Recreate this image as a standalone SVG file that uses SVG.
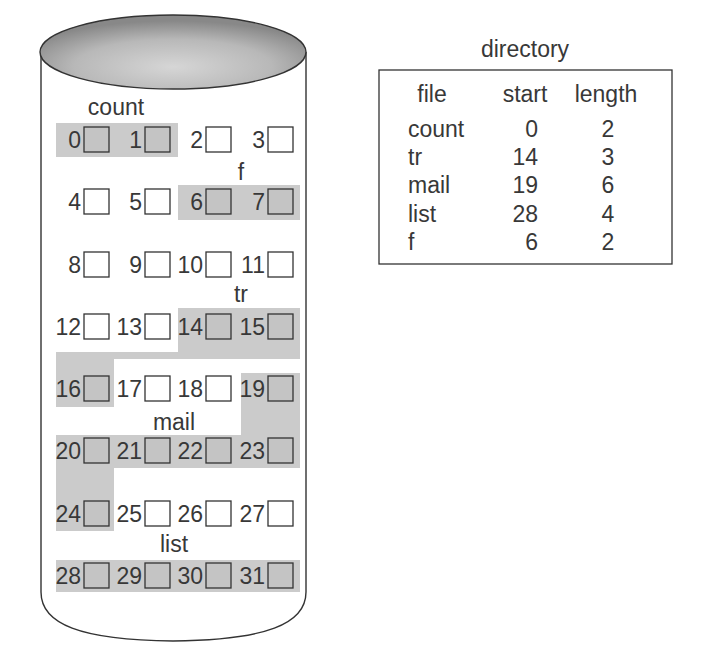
<svg xmlns="http://www.w3.org/2000/svg" width="709" height="658" viewBox="0 0 709 658">
<style>
text{font-family:"Liberation Sans",Arial,sans-serif;font-size:23px;fill:#383838}
.n{text-anchor:end}
.c{text-anchor:middle}
.sq{fill:#fff;stroke:#333;stroke-width:1.3}
.sh .sq{fill:#c4c4c4}
.reg{fill:#cbcbcb}
.ln{fill:none;stroke:#333;stroke-width:1.4}
</style>
<defs>
<radialGradient id="top" cx="50%" cy="70%" r="62%">
<stop offset="0" stop-color="#d6d6d6"/>
<stop offset="0.6" stop-color="#b8b8b8"/>
<stop offset="1" stop-color="#888888"/>
</radialGradient>
</defs>
<rect width="709" height="658" fill="#fff"/>
<g id="disk">
<path class="ln" d="M41,52 L41,592 C41,624 80,640 173,641 C266,640 306,624 306,592 L306,52"/>
<ellipse cx="173" cy="52" rx="133" ry="37" fill="url(#top)" stroke="#333" stroke-width="1.4"/>
</g>
<g id="regions">
<rect class="reg" x="56" y="123" width="122" height="34"/>
<rect class="reg" x="178" y="185" width="122" height="35"/>
<polygon class="reg" points="178,308 300,308 300,359 114,359 114,407 56,407 56,352 178,352"/>
<polygon class="reg" points="241,373 300,373 300,468 114,468 114,531 56,531 56,435 241,435"/>
<rect class="reg" x="56" y="560" width="244" height="32"/>
</g>
<g id="labels">
<text class="c" x="116" y="115">count</text>
<text class="c" x="241" y="180">f</text>
<text class="c" x="241" y="302">tr</text>
<text class="c" x="174" y="430">mail</text>
<text class="c" x="174" y="552">list</text>
</g>
<g id="blocks">
<g id="b0" class="sh"><text class="n" x="81" y="148">0</text><rect class="sq" x="84" y="127" width="25" height="25"/></g>
<g id="b1" class="sh"><text class="n" x="142" y="148">1</text><rect class="sq" x="145" y="127" width="25" height="25"/></g>
<g id="b2"><text class="n" x="203" y="148">2</text><rect class="sq" x="206" y="127" width="25" height="25"/></g>
<g id="b3"><text class="n" x="265" y="148">3</text><rect class="sq" x="268" y="127" width="25" height="25"/></g>
<g id="b4"><text class="n" x="81" y="210">4</text><rect class="sq" x="84" y="189" width="25" height="25"/></g>
<g id="b5"><text class="n" x="142" y="210">5</text><rect class="sq" x="145" y="189" width="25" height="25"/></g>
<g id="b6" class="sh"><text class="n" x="203" y="210">6</text><rect class="sq" x="206" y="189" width="25" height="25"/></g>
<g id="b7" class="sh"><text class="n" x="265" y="210">7</text><rect class="sq" x="268" y="189" width="25" height="25"/></g>
<g id="b8"><text class="n" x="81" y="273">8</text><rect class="sq" x="84" y="252" width="25" height="25"/></g>
<g id="b9"><text class="n" x="142" y="273">9</text><rect class="sq" x="145" y="252" width="25" height="25"/></g>
<g id="b10"><text class="n" x="203" y="273">10</text><rect class="sq" x="206" y="252" width="25" height="25"/></g>
<g id="b11"><text class="n" x="265" y="273">11</text><rect class="sq" x="268" y="252" width="25" height="25"/></g>
<g id="b12"><text class="n" x="81" y="335">12</text><rect class="sq" x="84" y="314" width="25" height="25"/></g>
<g id="b13"><text class="n" x="142" y="335">13</text><rect class="sq" x="145" y="314" width="25" height="25"/></g>
<g id="b14" class="sh"><text class="n" x="203" y="335">14</text><rect class="sq" x="206" y="314" width="25" height="25"/></g>
<g id="b15" class="sh"><text class="n" x="265" y="335">15</text><rect class="sq" x="268" y="314" width="25" height="25"/></g>
<g id="b16" class="sh"><text class="n" x="81" y="397">16</text><rect class="sq" x="84" y="376" width="25" height="25"/></g>
<g id="b17"><text class="n" x="142" y="397">17</text><rect class="sq" x="145" y="376" width="25" height="25"/></g>
<g id="b18"><text class="n" x="203" y="397">18</text><rect class="sq" x="206" y="376" width="25" height="25"/></g>
<g id="b19" class="sh"><text class="n" x="265" y="397">19</text><rect class="sq" x="268" y="376" width="25" height="25"/></g>
<g id="b20" class="sh"><text class="n" x="81" y="459">20</text><rect class="sq" x="84" y="438" width="25" height="25"/></g>
<g id="b21" class="sh"><text class="n" x="142" y="459">21</text><rect class="sq" x="145" y="438" width="25" height="25"/></g>
<g id="b22" class="sh"><text class="n" x="203" y="459">22</text><rect class="sq" x="206" y="438" width="25" height="25"/></g>
<g id="b23" class="sh"><text class="n" x="265" y="459">23</text><rect class="sq" x="268" y="438" width="25" height="25"/></g>
<g id="b24" class="sh"><text class="n" x="81" y="522">24</text><rect class="sq" x="84" y="501" width="25" height="25"/></g>
<g id="b25"><text class="n" x="142" y="522">25</text><rect class="sq" x="145" y="501" width="25" height="25"/></g>
<g id="b26"><text class="n" x="203" y="522">26</text><rect class="sq" x="206" y="501" width="25" height="25"/></g>
<g id="b27"><text class="n" x="265" y="522">27</text><rect class="sq" x="268" y="501" width="25" height="25"/></g>
<g id="b28" class="sh"><text class="n" x="81" y="584">28</text><rect class="sq" x="84" y="563" width="25" height="25"/></g>
<g id="b29" class="sh"><text class="n" x="142" y="584">29</text><rect class="sq" x="145" y="563" width="25" height="25"/></g>
<g id="b30" class="sh"><text class="n" x="203" y="584">30</text><rect class="sq" x="206" y="563" width="25" height="25"/></g>
<g id="b31" class="sh"><text class="n" x="265" y="584">31</text><rect class="sq" x="268" y="563" width="25" height="25"/></g>
</g>
<g id="directory">
<text class="c" x="525" y="57">directory</text>
<rect x="379" y="70" width="293" height="194" fill="none" stroke="#333" stroke-width="1.3"/>
<text class="c" x="432" y="102">file</text>
<text class="c" x="525" y="102">start</text>
<text class="c" x="606" y="102">length</text>
<text x="408" y="137">count</text><text class="n" x="538" y="137">0</text><text class="c" x="608" y="137">2</text>
<text x="408" y="165">tr</text><text class="n" x="538" y="165">14</text><text class="c" x="608" y="165">3</text>
<text x="408" y="193">mail</text><text class="n" x="538" y="193">19</text><text class="c" x="608" y="193">6</text>
<text x="408" y="222">list</text><text class="n" x="538" y="222">28</text><text class="c" x="608" y="222">4</text>
<text x="408" y="250">f</text><text class="n" x="538" y="250">6</text><text class="c" x="608" y="250">2</text>
</g>
</svg>
